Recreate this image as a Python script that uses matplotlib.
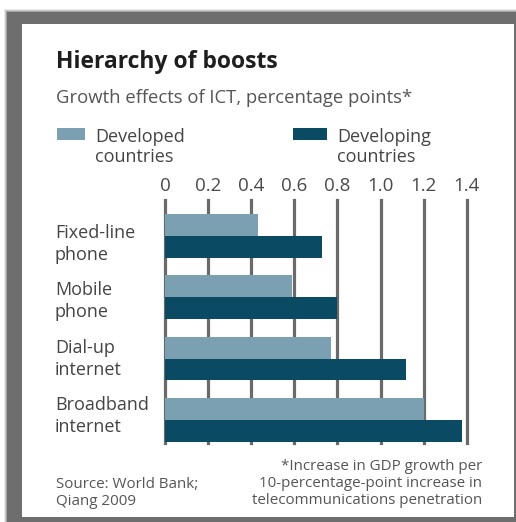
import matplotlib
matplotlib.use("Agg")
import matplotlib.pyplot as plt
from matplotlib.patches import Rectangle
import numpy as np

# ---------- data ----------
categories = ["Fixed-line\nphone", "Mobile\nphone", "Dial-up\ninternet", "Broadband\ninternet"]
developed  = [0.43, 0.59, 0.77, 1.20]
developing = [0.73, 0.80, 1.12, 1.38]
ticks = [0, 0.2, 0.4, 0.6, 0.8, 1.0, 1.2, 1.4]
tick_labels = ["0", "0.2", "0.4", "0.6", "0.8", "1.0", "1.2", "1.4"]
legend_labels = ["Developed\ncountries", "Developing\ncountries"]
source = "Source: World Bank;\nQiang 2009"
note = "*Increase in GDP growth per\n10-percentage-point increase in\ntelecommunications penetration"

C_DEVD = "#7aa0b2"; C_DEVG = "#0a4a62"; C_GRID = "#6a6a6a"
W, H = 516, 522
plt.rcParams["font.family"] = ["Open Sans", "DejaVu Sans"]

def fx(x): return x / W
def fy(y): return 1 - y / H

def lines(x, y0, step, txt, **kw):
    # one text per line so each baseline sits where it should
    for k, ln in enumerate(txt.split("\n")):
        fig.text(fx(x), fy(y0 + k * step), ln, va="baseline", **kw)

fig = plt.figure(figsize=(W / 100, H / 100), dpi=100)
fig.patch.set_facecolor("white")

# ---------- frame (grey border with soft shadow) ----------
for pad, a in [(3, 0.15), (2, 0.25), (1, 0.4)]:
    fig.add_artist(Rectangle((fx(7 - pad), fy(522)), fx(W - 7 + pad), fy(12 - pad) - fy(522),
                             transform=fig.transFigure, color="#6e6e6e", alpha=a, lw=0, zorder=0))
fig.add_artist(Rectangle((fx(7), fy(522)), fx(W - 7), fy(12) - fy(522),
                         transform=fig.transFigure, color="#6e6e6e", lw=0, zorder=0))
fig.add_artist(Rectangle((fx(22), fy(517)), fx(492), fy(24) - fy(517),
                         transform=fig.transFigure, color="white", lw=0, zorder=0))

# ---------- axes ----------
ax = fig.add_axes([fx(165), fy(443), fx(466.7) - fx(165), fy(200) - fy(443)])
ax.set_facecolor("none")
y = np.arange(len(categories))
bh = 0.355
ax.barh(y - bh / 2, developed, height=bh, color=C_DEVD, zorder=3)
ax.barh(y + bh / 2, developing, height=bh, color=C_DEVG, zorder=3)
ax.set_xlim(0, 1.4)
ax.set_ylim(3.374, -0.585)
ax.set_xticks(ticks)
ax.set_xticklabels(tick_labels)
ax.xaxis.tick_top()
ax.tick_params(axis="x", length=0, pad=3.5, labelsize=13.5, labelcolor="#4a4a4a")
ax.set_yticks([])
for s in ax.spines.values():
    s.set_visible(False)
ax.grid(axis="x", color=C_GRID, lw=2.3, zorder=1)
ax.set_axisbelow(True)
for gl in ax.xaxis.get_gridlines():
    gl.set_clip_on(False)

# category labels
for i, c in enumerate(categories):
    lines(55, 238 + i * 57.3, 22, c, fontsize=13, color="#444444")

# ---------- titles ----------
fig.text(fx(56), fy(68), "Hierarchy of boosts", fontsize=16.5, fontweight="bold",
         color="#1e1e1e", va="baseline")
fig.text(fx(56), fy(103), "Growth effects of ICT, percentage points*", fontsize=13.3,
         color="#555555", va="baseline")

# legend
for (x0, x1), col, txt in zip([(57, 85), (293, 327)], [C_DEVD, C_DEVG], legend_labels):
    fig.add_artist(Rectangle((fx(x0), fy(140)), fx(x1 - x0), fy(128) - fy(140),
                             transform=fig.transFigure, color=col, lw=0))
    lines(x1 + 10, 142, 20, txt, fontsize=13, color="#444444")

# footer
lines(56, 488, 17, source, fontsize=10.9, color="#555555")
lines(482, 470, 17, note, fontsize=10.9, color="#555555", ha="right")

fig.savefig("out.png", dpi=100)
